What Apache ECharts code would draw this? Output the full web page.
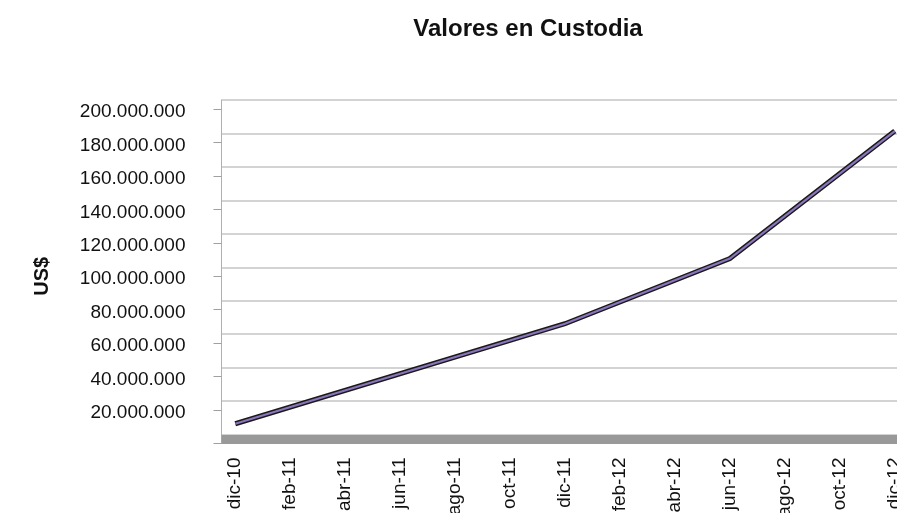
<!DOCTYPE html>
<html>
<head>
<meta charset="utf-8">
<script src="https://cdn.jsdelivr.net/npm/echarts@6/dist/echarts.min.js"></script>
<style>
  html, body { margin: 0; padding: 0; background: #fff; overflow: hidden; }
  /* the plot runs past the right edge of the window, as in the original */
  #chart { width: 909px; height: 513px; }
</style>
</head>
<body>
<div id="chart"></div>
<script>
// meses (eje de fechas, un punto por mes)
const months = ['dic-10','ene-11','feb-11','mar-11','abr-11','may-11','jun-11','jul-11','ago-11','sep-11','oct-11','nov-11',
  'dic-11','ene-12','feb-12','mar-12','abr-12','may-12','jun-12','jul-12','ago-12','sep-12','oct-12','nov-12','dic-12']
// valores en custodia (US$), solo los meses con dato
const custodia = [11800000, null, null, null, null, null, null, null, null, null, null, null,
  71600000, null, null, null, null, null, 110600000, null, null, null, null, null, 186800000]
const yMin = 0
const yMax = 200000000
const yStep = 20000000

const font = '"Liberation Sans", Arial, sans-serif'

function fmt(v){
  if (v === 0) return ''
  return String(v).replace(/\B(?=(\d{3})+(?!\d))/g, '.')
}

const chart = echarts.init(document.getElementById('chart'))
chart.setOption({
  animation: false,
  title: {
    text: 'Valores en Custodia',
    left: 523, top: 12, textAlign: 'center',
    textStyle: { fontFamily: font, fontSize: 24, fontWeight: 'bold', color: '#111' }
  },
  grid: [
    // front (axis with labels)
    { left: 221.5, right: 0.5, top: 109, bottom: 69.5, outerBoundsMode: 'none' },
    // back wall (gridlines), shifted up by the depth
    { left: 221.5, right: 0.5, top: 100, bottom: 78.5, outerBoundsMode: 'none' }
  ],
  xAxis: [
    {
      gridIndex: 0, type: 'category', data: months, boundaryGap: true,
      axisLine: { lineStyle: { color: '#b0b0b0', width: 1 } },
      axisTick: { interval: 1, length: 8, lineStyle: { color: '#a0a0a0' } },
      axisLabel: { interval: 1, rotate: 90, margin: 14, fontFamily: font, fontSize: 19, color: '#111' }
    },
    {
      // floor of the 3D plot
      gridIndex: 1, type: 'category', data: months, boundaryGap: true, offset: 4.5,
      axisLine: { onZero: false, lineStyle: { color: '#999999', width: 9, cap: 'butt' } },
      axisTick: { show: false }, axisLabel: { show: false }
    }
  ],
  yAxis: [
    {
      gridIndex: 0, type: 'value', min: yMin, max: yMax, interval: yStep,
      name: 'US$', nameLocation: 'middle', nameRotate: 90, nameGap: 169,
      nameTextStyle: { fontFamily: font, fontSize: 20, fontWeight: 'bold', color: '#111' },
      axisLine: { show: true, lineStyle: { color: '#b0b0b0' } },
      axisTick: { show: true, length: 8, lineStyle: { color: '#a0a0a0' } },
      axisLabel: { margin: 36, verticalAlign: 'top', lineHeight: 6, formatter: fmt, fontFamily: font, fontSize: 19, color: '#111' },
      splitLine: { show: false }
    },
    {
      gridIndex: 1, type: 'value', min: yMin, max: yMax, interval: yStep,
      axisLine: { show: true, lineStyle: { color: '#b0b0b0' } },
      axisTick: { show: false }, axisLabel: { show: false },
      splitLine: { show: true, lineStyle: { color: '#c4c4c4', width: 1.5 } }
    }
  ],
  series: [
    {
      type: 'line', xAxisIndex: 0, yAxisIndex: 0, data: custodia, connectNulls: true,
      symbol: 'none', lineStyle: { color: '#1a1a1a', width: 5, cap: 'butt', join: 'miter' }, z: 3
    },
    {
      type: 'line', xAxisIndex: 0, yAxisIndex: 0, data: custodia, connectNulls: true,
      symbol: 'none', lineStyle: { color: '#8a74bb', width: 2.2, cap: 'butt', join: 'miter' }, z: 4
    }
  ]
})
</script>
</body>
</html>
